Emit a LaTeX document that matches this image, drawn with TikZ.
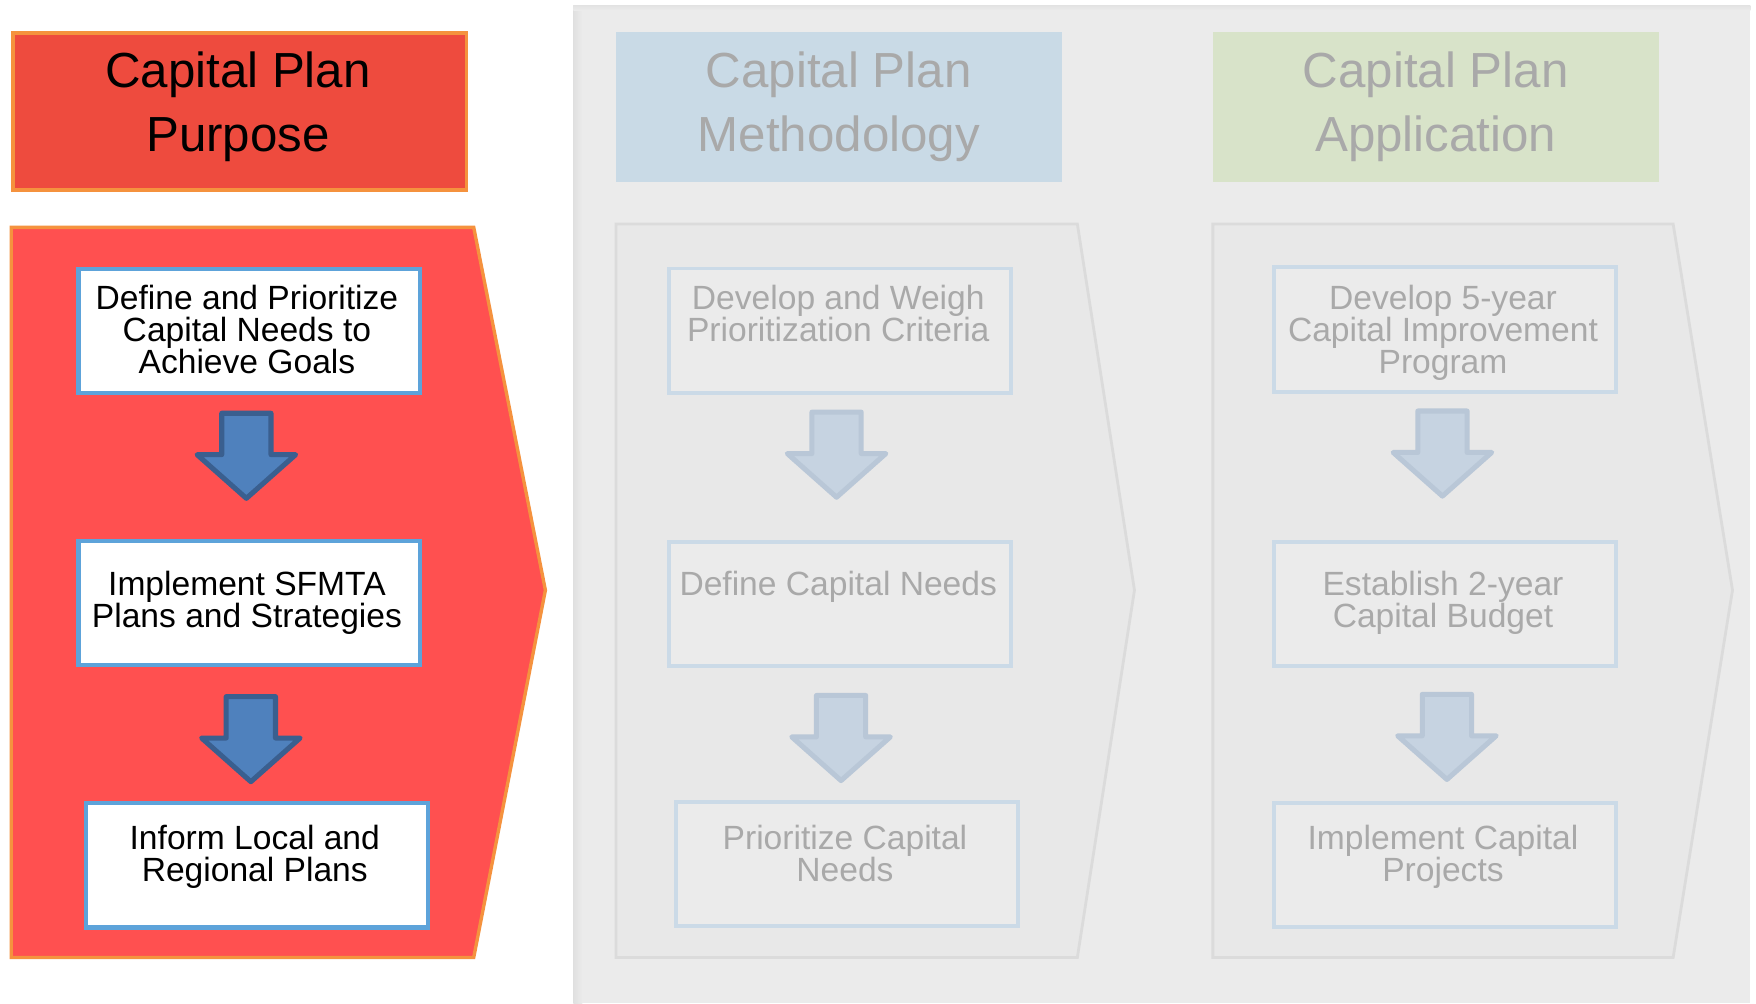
\documentclass[tikz,border=0pt]{standalone}
\usepackage{fontspec}
\setmainfont{Liberation Sans}
\definecolor{hdrred}{HTML}{EE4B3E}
\definecolor{penred}{HTML}{FF5050}
\definecolor{orng}{HTML}{F5923E}
\definecolor{bxblue}{HTML}{5DA3DA}
\definecolor{arfill}{HTML}{4F81BD}
\definecolor{ardraw}{HTML}{3A5F8F}
\definecolor{panel}{HTML}{EBEBEB}
\definecolor{gpen}{HTML}{E8E8E8}
\definecolor{gpendraw}{HTML}{DBDBDB}
\definecolor{hdrblue}{HTML}{C9DAE6}
\definecolor{hdrgreen}{HTML}{D8E3C9}
\definecolor{gtext}{HTML}{A9A9A9}
\definecolor{gbox}{HTML}{CBDAE7}
\definecolor{garfill}{HTML}{C6D3E1}
\definecolor{gardraw}{HTML}{B9C7D7}
\tikzset{
  hdr/.style={draw=none, minimum width=398pt, minimum height=134pt, inner sep=0pt},
  bx/.style={minimum width=305pt, minimum height=111pt, inner sep=0pt, line width=4pt},
  redbox/.style={bx, draw=bxblue, fill=white},
  graybox/.style={bx, draw=gbox, fill=panel, line width=3.5pt},
  titletxt/.style={align=center, font=\fontsize{44}{57}\selectfont, inner sep=0pt},
  btxt/.style={align=center, font=\fontsize{30}{28.5}\selectfont, inner sep=0pt},
  pics/barrow/.style={code={
    \path[pic actions, line width=4.5pt, line join=round]
      (-22,0) -- (22,0) -- (22,37) -- (44,37) -- (0,76) -- (-44,37) -- (-22,37) -- cycle;
  }},
  redarrow/.style={fill=arfill, draw=ardraw},
  grayarrow/.style={fill=garfill, draw=gardraw},
}
\begin{document}
\begin{tikzpicture}[x=1pt, y=-1pt]
\useasboundingbox[fill=white] (0,0) rectangle (1568,896);
% gray panel
\fill[panel] (512,5) rectangle (1563,896);
\fill[left color=gpendraw!70!panel, right color=panel] (512,5) rectangle (520,896);
\fill[top color=gpendraw!50!panel, bottom color=panel] (512,5) rectangle (1563,9);

% ---------- left column ----------
\node[hdr, fill=hdrred, draw=orng, line width=3pt, minimum width=405pt, minimum height=140pt, anchor=north west] (h1) at (10,28) {};
\node[titletxt, text=black] (h1t) at (212.5,95) {Capital Plan\\Purpose};
\draw[fill=penred, draw=orng, line width=3pt, line join=miter]
  (10,203) -- (423,203) -- (487,527) -- (423,855) -- (10,855) -- cycle;
\node[redbox, anchor=north west] (a1) at (68,238) {};
\node[btxt, text=black] (a1t) at (220.5,294) {Define and Prioritize\\Capital Needs to\\Achieve Goals};
\node[redbox, anchor=north west] (a2) at (68,481) {};
\node[btxt, text=black] (a2t) at (220.5,538) {Implement SFMTA\\Plans and Strategies};
\node[redbox, anchor=north west] (a3) at (75,715) {};
\node[btxt, text=black] (a3t) at (227.5,765) {Inform Local and\\Regional Plans};
\pic[redarrow] at (220,369) {barrow};
\pic[redarrow] at (224,622) {barrow};

% ---------- middle column ----------
\node[hdr, fill=hdrblue, anchor=north west] (h2) at (550,28) {};
\node[titletxt, text=gtext] (h2t) at (749,95) {Capital Plan\\Methodology};
\draw[fill=gpen, draw=gpendraw, line width=2.5pt]
  (550,200) -- (962,200) -- (1013,527) -- (962,855) -- (550,855) -- cycle;
\node[graybox, anchor=north west] (m1) at (596,238) {};
\node[btxt, text=gtext] (m1t) at (748.5,280) {Develop and Weigh\\Prioritization Criteria};
\node[graybox, anchor=north west] (m2) at (596,482) {};
\node[btxt, text=gtext] (m2t) at (748.5,524) {Define Capital Needs};
\node[graybox, anchor=north west] (m3) at (602,714) {};
\node[btxt, text=gtext] (m3t) at (754.5,762) {Prioritize Capital\\Needs};
\pic[grayarrow] at (747,368) {barrow};
\pic[grayarrow] at (751,621) {barrow};

% ---------- right column ----------
\node[hdr, fill=hdrgreen, anchor=north west] (h3) at (1083,28) {};
\node[titletxt, text=gtext] (h3t) at (1282,95) {Capital Plan\\Application};
\draw[fill=gpen, draw=gpendraw, line width=2.5pt]
  (1083,200) -- (1494,200) -- (1547,527) -- (1494,855) -- (1083,855) -- cycle;
\node[graybox, anchor=north west] (r1) at (1136,237) {};
\node[btxt, text=gtext] (r1t) at (1288.5,297) {Develop 5-year\\Capital Improvement\\Program};
\node[graybox, anchor=north west] (r2) at (1136,482) {};
\node[btxt, text=gtext] (r2t) at (1288.5,538) {Establish 2-year\\Capital Budget};
\node[graybox, anchor=north west] (r3) at (1136,715) {};
\node[btxt, text=gtext] (r3t) at (1288.5,765) {Implement Capital\\Projects};
\pic[grayarrow] at (1288,367) {barrow};
\pic[grayarrow] at (1292,620) {barrow};
\end{tikzpicture}
\end{document}
